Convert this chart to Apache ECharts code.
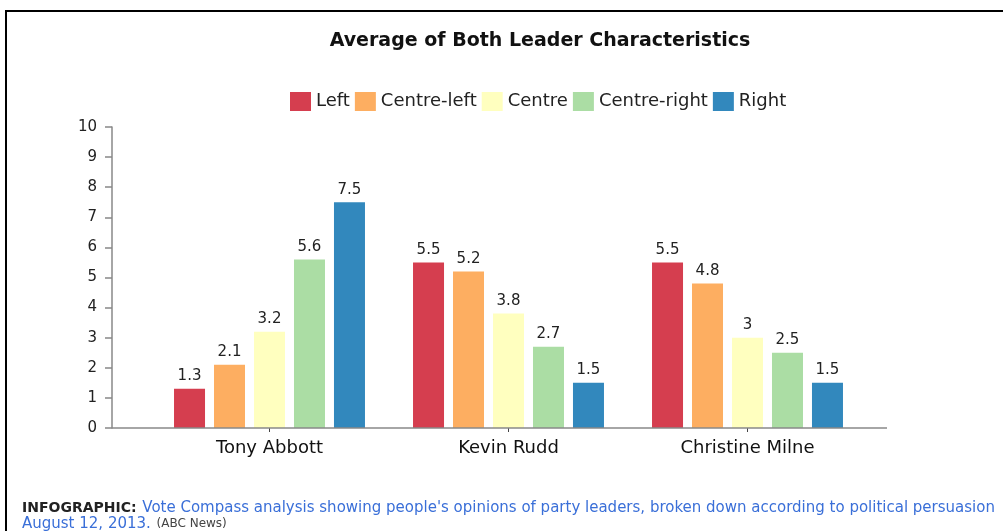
<!DOCTYPE html>
<html><head><meta charset="utf-8">
<script src="https://cdn.jsdelivr.net/npm/echarts@6/dist/echarts.min.js"></script>
<style>html,body{margin:0;padding:0;background:#fff}#c{width:1003px;height:531px}</style>
</head><body><div id="c"></div>
<script>
const categories = ['Tony Abbott', 'Kevin Rudd', 'Christine Milne'];
const seriesNames = ['Left', 'Centre-left', 'Centre', 'Centre-right', 'Right'];
const leftVals = [1.3, 5.5, 5.5];
const centreLeftVals = [2.1, 5.2, 4.8];
const centreVals = [3.2, 3.8, 3];
const centreRightVals = [5.6, 2.7, 2.5];
const rightVals = [7.5, 1.5, 1.5];
const colors = ['#d53e4f', '#fdae61', '#ffffbf', '#abdda4', '#3288bd'];
const allVals = [leftVals, centreLeftVals, centreVals, centreRightVals, rightVals];

const font = 'DejaVu Sans, sans-serif';
const chart = echarts.init(document.getElementById('c'));
chart.setOption({
  animation: false,
  color: colors,
  textStyle: { fontFamily: font },
  title: [{
    text: 'Average of Both Leader Characteristics',
    left: 535, top: 27, textAlign: 'center',
    textStyle: { fontSize: 19, fontWeight: 'bold', color: '#111', fontFamily: font }
  }, {
    left: 22, top: 500, padding: 0,
    text: '{b|INFOGRAPHIC:} {l|Vote Compass analysis showing people\'s opinions of party leaders, broken down according to political persuasion}\n{l|August 12, 2013.} {s|(ABC News)}',
    textStyle: {
      fontFamily: font, lineHeight: 16, fontWeight: 'normal',
      rich: {
        b: { fontSize: 14, fontWeight: 'bold', color: '#222', fontFamily: font, lineHeight: 16 },
        l: { fontSize: 15, fontWeight: 'normal', color: '#3a6fd8', fontFamily: font, lineHeight: 16 },
        s: { fontSize: 12, fontWeight: 'normal', color: '#444', fontFamily: font, lineHeight: 16 }
      }
    }
  }],
  legend: {
    data: seriesNames, left: 285, top: 87,
    itemWidth: 21, itemHeight: 19, itemGap: 5,
    icon: 'rect',
    textStyle: { fontSize: 18, color: '#222', fontFamily: font, padding: [0, 0, 0, 0] }
  },
  grid: { left: 150, right: 136, top: 127, bottom: 103 },
  xAxis: {
    type: 'category', data: categories,
    axisLine: { show: false },
    axisTick: { show: true, alignWithLabel: true, length: 4, lineStyle: { color: '#444' } },
    axisLabel: { fontSize: 18, color: '#111', margin: 11, fontFamily: font }
  },
  yAxis: {
    type: 'value', min: 0, max: 10, interval: 1, offset: 38,
    splitLine: { show: false },
    axisLine: { show: true, lineStyle: { color: '#888', width: 1.5 } },
    axisTick: { show: true, length: 7, lineStyle: { color: '#888', width: 1.5 } },
    axisLabel: { fontSize: 15, color: '#222', margin: 15, fontFamily: font }
  },
  graphic: [
    { type: 'line', shape: { x1: 112, y1: 428, x2: 887, y2: 428 }, style: { stroke: '#888', lineWidth: 1.5 }, z: 10 },
    { type: 'rect', shape: { x: 6, y: 11, width: 1100, height: 600 }, style: { fill: 'none', stroke: '#000', lineWidth: 2 } }
  ],
  series: seriesNames.map((n, i) => ({
    name: n, type: 'bar', data: allVals[i],
    barWidth: 31, barGap: '29%',
    itemStyle: { color: colors[i] },
    label: { show: true, position: 'top', fontSize: 15, color: '#222', distance: 5, fontFamily: font }
  }))
});
</script></body></html>
